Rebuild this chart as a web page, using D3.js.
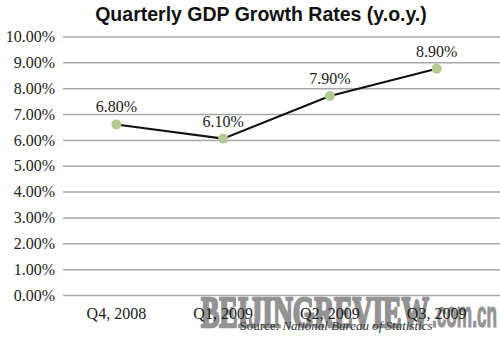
<!DOCTYPE html>
<html><head><meta charset="utf-8">
<script src="https://cdn.jsdelivr.net/npm/d3@7"></script>
<style>html,body{margin:0;padding:0;background:#fff;}svg{display:block;}</style>
</head><body>
<svg id="chart" width="500" height="340"></svg>
<script>
const categories = ["Q4, 2008", "Q1, 2009", "Q2, 2009", "Q3, 2009"];
const values = [6.6, 6.05, 7.7, 8.75];
const labels = ["6.80%", "6.10%", "7.90%", "8.90%"];
const yTicks = [0,1,2,3,4,5,6,7,8,9,10];
const title = "Quarterly GDP Growth Rates (y.o.y.)";

const svg = d3.select("#chart");
const mLeft = 63, mRight = 500, mTop = 36.5, mBottom = 295;
const x = d3.scaleBand().domain(categories).range([mLeft, 490]);
const y = d3.scaleLinear().domain([0, 10]).range([mBottom, mTop]);
const serif = "'Liberation Serif','DejaVu Serif',serif";

svg.append("text").attr("x", 261).attr("y", 21).attr("text-anchor", "middle")
  .attr("font-family", "'Liberation Sans',Arial,sans-serif").attr("font-weight", "bold")
  .attr("font-size", 19.5).attr("fill", "#111").text(title);

const yAxis = svg.append("g").attr("transform", `translate(${mLeft},0)`)
  .call(d3.axisLeft(y).tickValues(yTicks).tickSize(-(mRight - mLeft)).tickPadding(8)
    .tickFormat(d => d3.format(".2f")(d) + "%"));
yAxis.select(".domain").remove();
yAxis.selectAll(".tick line").attr("stroke", "#a8a8a8").attr("stroke-width", 1.5);
yAxis.selectAll(".tick text").style("font-family", serif).style("font-size", "16px").attr("fill", "#222");

// watermark (behind axis labels)
const wm = svg.append("g").attr("fill", "#939393").attr("stroke", "#939393").attr("stroke-linejoin", "round");
wm.append("text").attr("x", 201).attr("y", 327).style("font-family", serif)
  .style("font-weight", "bold").style("font-size", "44px").attr("stroke-width", 2.6)
  .attr("textLength", 228).attr("lengthAdjust", "spacingAndGlyphs").text("BEIJINGREVIEW");
wm.append("text").attr("x", 432).attr("y", 327)
  .style("font-family", "'Liberation Sans Narrow','Liberation Sans',Arial,sans-serif")
  .style("font-weight", "bold").style("font-size", "37px").attr("stroke-width", 1.2)
  .attr("textLength", 65).attr("lengthAdjust", "spacingAndGlyphs").text(".com.cn");

const xAxis = svg.append("g").attr("transform", `translate(0,${mBottom})`)
  .call(d3.axisBottom(x).tickSize(0).tickPadding(13));
xAxis.select(".domain").remove();
xAxis.selectAll(".tick text").style("font-family", serif).style("font-size", "16px").attr("fill", "#222");

const pts = categories.map((c, i) => ({c, v: values[i], l: labels[i]}));
const line = d3.line().x(d => x(d.c) + x.bandwidth() / 2).y(d => y(d.v));
svg.append("path").datum(pts).attr("d", line).attr("fill", "none")
  .attr("stroke", "#111").attr("stroke-width", 2);
svg.selectAll("circle.pt").data(pts).join("circle").attr("class", "pt")
  .attr("cx", d => x(d.c) + x.bandwidth() / 2).attr("cy", d => y(d.v)).attr("r", 5)
  .attr("fill", "#b3cb92");
svg.selectAll("text.lbl").data(pts).join("text").attr("class", "lbl")
  .attr("x", d => x(d.c) + x.bandwidth() / 2).attr("y", d => y(d.v) - 12)
  .attr("text-anchor", "middle").style("font-family", serif).style("font-size", "16px")
  .attr("fill", "#222").text(d => d.l);

const src = svg.append("text").attr("x", 336).attr("y", 330).attr("text-anchor", "middle")
  .style("font-family", serif).style("font-size", "13px").attr("fill", "#333");
src.append("tspan").text("Source: ");
src.append("tspan").attr("font-style", "italic").text("National Bureau of Statistics");
</script>
</body></html>
